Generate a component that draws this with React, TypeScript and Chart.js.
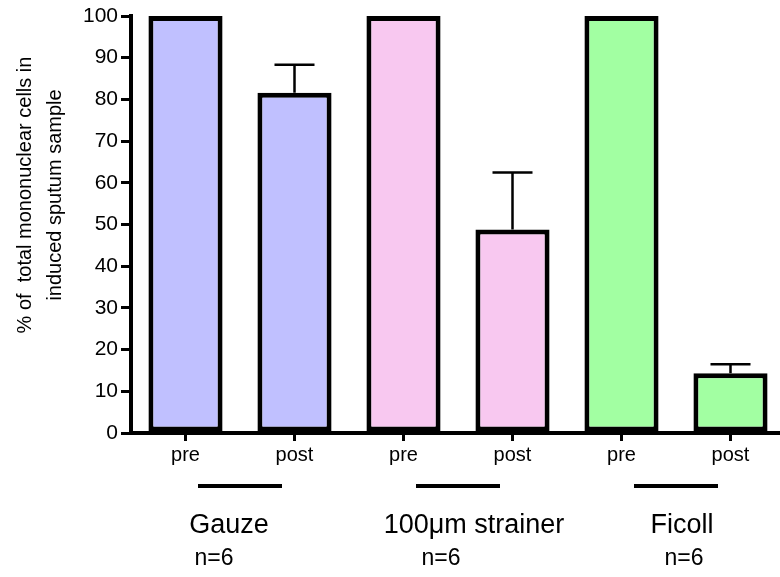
import React, { useEffect, useRef } from "react";
import { Chart, registerables } from "chart.js";

Chart.register(...registerables);

const categories = ["pre", "post", "pre", "post", "pre", "post"];
const values = [100, 81.6, 100, 48.8, 100, 14.3];
const errors = [0, 6.7, 0, 13.7, 0, 2.2];
const groups = ["Gauze", "100\u03bcm strainer", "Ficoll"];
const groupN = ["n=6", "n=6", "n=6"];
const groupColors = ["#c0c0ff", "#f8c8f0", "#a2ffa2"];
const yTitleLines = ["% of  total mononuclear cells in", "induced sputum sample"];

// style-only nudges for the group captions (px)
const nameDx = [-11, 16, 6];
const nDx = [-26, -17, 8];

const FONT = "'Liberation Sans', Arial, sans-serif";

const extrasPlugin = {
  id: "extras",
  afterDatasetsDraw(chart: any) {
    const ctx = chart.ctx;
    const meta = chart.getDatasetMeta(0);
    const y = chart.scales.y;
    ctx.save();
    ctx.strokeStyle = "#000";
    ctx.lineWidth = 2.5;
    meta.data.forEach((bar: any, i: number) => {
      const e = errors[i];
      if (!e) return;
      const top = y.getPixelForValue(values[i] + e);
      ctx.beginPath();
      ctx.moveTo(bar.x, bar.y);
      ctx.lineTo(bar.x, top);
      ctx.moveTo(bar.x - 20, top);
      ctx.lineTo(bar.x + 20, top);
      ctx.stroke();
    });
    ctx.restore();
  },
  afterDraw(chart: any) {
    const ctx = chart.ctx;
    const x = chart.scales.x;
    ctx.save();
    ctx.fillStyle = "#000";
    ctx.strokeStyle = "#000";
    groups.forEach((g, gi) => {
      const a = x.getPixelForValue(gi * 2);
      const b = x.getPixelForValue(gi * 2 + 1);
      const c = (a + b) / 2;
      ctx.lineWidth = 4;
      ctx.beginPath();
      ctx.moveTo(c - 42, 486);
      ctx.lineTo(c + 42, 486);
      ctx.stroke();
      ctx.textAlign = "center";
      ctx.textBaseline = "middle";
      ctx.font = `27px ${FONT}`;
      ctx.fillText(g, c + nameDx[gi], 526);
      ctx.font = `23px ${FONT}`;
      ctx.fillText(groupN[gi], c + nDx[gi], 559);
    });
    ctx.font = `20px ${FONT}`;
    ctx.textAlign = "center";
    ctx.textBaseline = "middle";
    yTitleLines.forEach((t, i) => {
      ctx.save();
      ctx.translate(25 + i * 30, 195);
      ctx.rotate(-Math.PI / 2);
      ctx.fillText(t, 0, 0);
      ctx.restore();
    });
    ctx.restore();
  },
};

export default function App() {
  const ref = useRef<HTMLCanvasElement>(null);
  useEffect(() => {
    if (!ref.current) return;
    const barColors = categories.map((_, i) => groupColors[Math.floor(i / 2)]);
    const chart = new Chart(ref.current, {
      type: "bar",
      data: {
        labels: categories,
        datasets: [
          {
            data: values,
            backgroundColor: barColors,
            borderColor: "#000",
            borderWidth: 5,
            borderSkipped: false,
            barPercentage: 0.68,
            categoryPercentage: 1,
          },
        ],
      },
      options: {
        responsive: false,
        animation: false,
        devicePixelRatio: 1,
        layout: { padding: { left: 0, top: 16, right: 5, bottom: 0 } },
        plugins: { legend: { display: false }, tooltip: { enabled: false } },
        scales: {
          x: {
            offset: true,
            grid: {
              offset: false,
              drawOnChartArea: false,
              drawTicks: true,
              tickLength: 8,
              lineWidth: 3,
              color: "#000",
            },
            border: { display: true, width: 4, color: "#000" },
            ticks: {
              color: "#000",
              font: { family: FONT, size: 20 },
              padding: 2,
              maxRotation: 0,
              autoSkip: false,
            },
            afterFit(scale: any) {
              scale.height = 144;
            },
          },
          y: {
            min: 0,
            max: 100,
            grid: {
              drawOnChartArea: false,
              drawTicks: true,
              tickLength: 10,
              lineWidth: 3,
              color: "#000",
            },
            border: { display: true, width: 4, color: "#000" },
            ticks: {
              stepSize: 10,
              color: "#000",
              font: { family: FONT, size: 21 },
              padding: 3,
            },
            afterFit(scale: any) {
              scale.width = 131;
            },
          },
        },
      },
      plugins: [extrasPlugin],
    });
    return () => chart.destroy();
  }, []);
  return (
    <div
      style={{
        position: "fixed",
        left: 0,
        top: 0,
        width: 780,
        height: 577,
        overflow: "hidden",
        background: "#fff",
      }}
    >
      <canvas ref={ref} width={790} height={577} style={{ display: "block" }} />
    </div>
  );
}
